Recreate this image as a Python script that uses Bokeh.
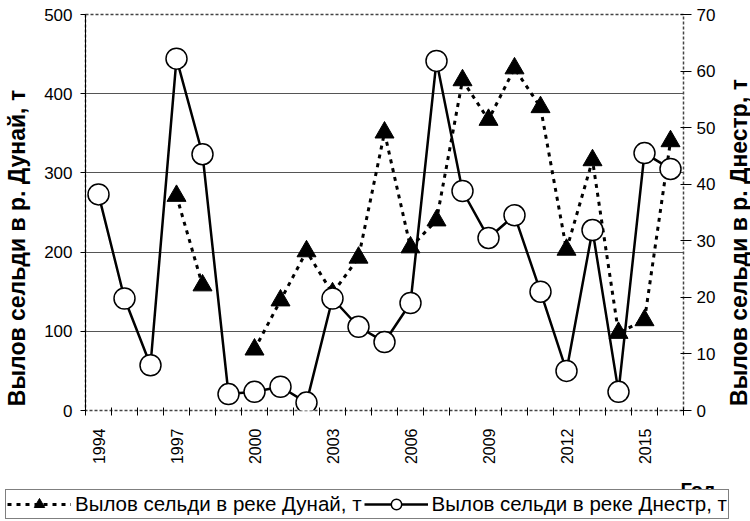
import math
from bokeh.plotting import figure
from bokeh.layouts import column, row
from bokeh.models import (Range1d, LinearAxis, FixedTicker, Legend, LegendItem,
                          Label, ColumnDataSource)
from bokeh.embed import file_html
from bokeh.resources import INLINE

years = list(range(1994, 2017))
nan = float("nan")
danube = [nan, nan, nan, 271, 158, nan, 77, 139, 201, 148, 193, 351, 206, 240,
          417, 367, 432, 383, 203, 316, 98, 114, 340]
dniester = [38.2, 19.8, 8.0, 62.2, 45.3, 2.9, 3.3, 4.2, 1.4, 19.8, 14.8, 12.1,
            19.0, 61.8, 38.8, 30.5, 34.5, 21.0, 7.0, 31.9, 3.3, 45.5, 42.7]
year_ticks = [1994, 1997, 2000, 2003, 2006, 2009, 2012, 2015]
year_labels = ["1994", "1997", "2000", "2003", "2006", "2009", "2012", "2015"]
left_ticks = [0, 100, 200, 300, 400, 500]
right_ticks = [0, 10, 20, 30, 40, 50, 60, 70]
grid_ticks = [100, 200, 300, 400]

label_danube = "Вылов сельди в реке Дунай, т"
label_dniester = "Вылов сельди в реке Днестр, т"
axis_left_title = "Вылов сельди в р. Дунай, т"
axis_right_title = "Вылов сельди в р. Днестр, т"
x_title = "Год"

FONT = "Liberation Sans"

# layout (pixels)
LF_W, P_W, RF_W = 38, 680, 32
TOP, BOTTOM = 14, 56
MAIN_H = 467
LG_H = 53
LG_TOP = 8


def no_align(fig):
    if "frame_align" in fig.properties():
        fig.frame_align = False


def blank(w, h, top=0, bottom=0):
    f = figure(width=w, height=h, output_backend="svg", toolbar_location=None,
               title=None,
               x_range=Range1d(0, w), y_range=Range1d(0, h - top - bottom),
               x_axis_type=None, y_axis_type=None,
               min_border_left=0, min_border_right=0, min_border_top=top,
               min_border_bottom=bottom)
    f.outline_line_color = None
    f.background_fill_color = "white"
    f.border_fill_color = "white"
    no_align(f)
    return f


src = ColumnDataSource(dict(year=years, danube=danube, dniester=dniester))

p = figure(width=P_W, height=MAIN_H, output_backend="svg",
           toolbar_location=None, title=None,
           x_range=Range1d(years[0] - 0.5, years[-1] + 0.5),
           y_range=Range1d(0, 500),
           min_border_left=47, min_border_right=35, min_border_top=TOP,
           min_border_bottom=BOTTOM)
no_align(p)
p.extra_y_ranges = {"dn": Range1d(0, 70)}

p.background_fill_color = "white"
p.border_fill_color = "white"
p.outline_line_color = "#444444"
p.outline_line_dash = "3 2"
p.outline_line_width = 1.5

# x axis
xa = p.xaxis[0]
xa.ticker = FixedTicker(ticks=year_ticks,
                        minor_ticks=[y - 0.5 for y in years] + [years[-1] + 0.5])
xa.major_label_overrides = {t: l for t, l in zip(year_ticks, year_labels)}
xa.major_label_orientation = math.pi / 2
xa.major_tick_in = 0
xa.major_tick_out = 0
xa.minor_tick_in = 3
xa.minor_tick_out = 5
xa.minor_tick_line_color = "black"
xa.minor_tick_line_width = 1
xa.axis_line_color = None
xa.major_label_standoff = 13
xa.major_label_text_font = FONT
xa.major_label_text_font_size = "16px"
xa.major_label_text_color = "black"

# left axis
ya = p.yaxis[0]
ya.ticker = FixedTicker(ticks=left_ticks)
ya.major_tick_in = 0
ya.major_tick_out = 5
ya.minor_tick_line_color = None
ya.major_tick_line_color = "black"
ya.axis_line_color = "black"
ya.axis_line_width = 1
ya.major_label_standoff = 8
ya.major_label_text_font = FONT
ya.major_label_text_font_size = "17px"
ya.major_label_text_color = "black"

# right axis
ra = LinearAxis(y_range_name="dn", ticker=FixedTicker(ticks=right_ticks))
ra.major_tick_in = 3
ra.major_tick_out = 8
ra.minor_tick_line_color = None
ra.major_tick_line_color = "black"
ra.axis_line_color = None
ra.major_label_standoff = 5
ra.major_label_text_font = FONT
ra.major_label_text_font_size = "17px"
ra.major_label_text_color = "black"
p.add_layout(ra, "right")

p.xgrid.grid_line_color = None
p.ygrid.ticker = FixedTicker(ticks=grid_ticks)
p.ygrid.grid_line_color = "#555555"
p.ygrid.grid_line_width = 1

DASH = dict(line_color="black", line_width=3, line_dash="4 5")
TRI = dict(marker="triangle", size=19, fill_color="black", line_color="black")
SOLID = dict(line_color="black", line_width=2.5)
CIRC = dict(marker="circle", size=21, fill_color="white", line_color="black",
            line_width=1.5)

# series
p.line("year", "danube", source=src, **DASH)
p.scatter("year", "danube", source=src, **TRI)
p.line("year", "dniester", source=src, y_range_name="dn", **SOLID)
p.scatter("year", "dniester", source=src, y_range_name="dn", **CIRC)

# axis titles (rotated, reading bottom to top), frames match the main frame
TITLE = dict(text_font=FONT, text_font_style="bold", text_font_size="23px",
             text_color="black", angle=math.pi / 2, text_align="center",
             text_baseline="alphabetic")
lf = blank(LF_W, MAIN_H, TOP, BOTTOM)
lf.add_layout(Label(x=16, y=(MAIN_H - BOTTOM) - 247.5, text=axis_left_title,
                    **TITLE))
rf = blank(RF_W, MAIN_H, TOP, BOTTOM)
rf.add_layout(Label(x=20, y=(MAIN_H - BOTTOM) - 242, text=axis_right_title,
                    **TITLE))

# legend strip (same series, drawn off-range; only the legend samples show)
lg = blank(LF_W + P_W + RF_W, LG_H, top=LG_TOP)
l1 = lg.line("year", "danube", source=src, **DASH)
m1 = lg.scatter("year", "danube", source=src, **TRI)
l2 = lg.line("year", "dniester", source=src, **SOLID)
m2 = lg.scatter("year", "dniester", source=src, **CIRC)

legend = Legend(items=[LegendItem(label=label_danube, renderers=[l1, m1]),
                       LegendItem(label=label_dniester, renderers=[l2, m2])],
                orientation="horizontal", location=(5, 1),
                glyph_width=64, glyph_height=26, label_standoff=4, spacing=2,
                padding=1, margin=0, border_line_color="black",
                border_line_width=1, label_text_font=FONT,
                label_text_font_size="20.5px", label_text_color="black",
                background_fill_color="white", background_fill_alpha=1)
lg.add_layout(legend, "center")

lg.add_layout(Label(x=680, y=31, text=x_title, text_font=FONT,
                    text_font_style="bold", text_font_size="20px",
                    text_color="black", text_align="left",
                    text_baseline="alphabetic"))

layout = column(row(lf, p, rf, spacing=0), lg, spacing=0)
open("out.html", "w").write(file_html(layout, INLINE))
